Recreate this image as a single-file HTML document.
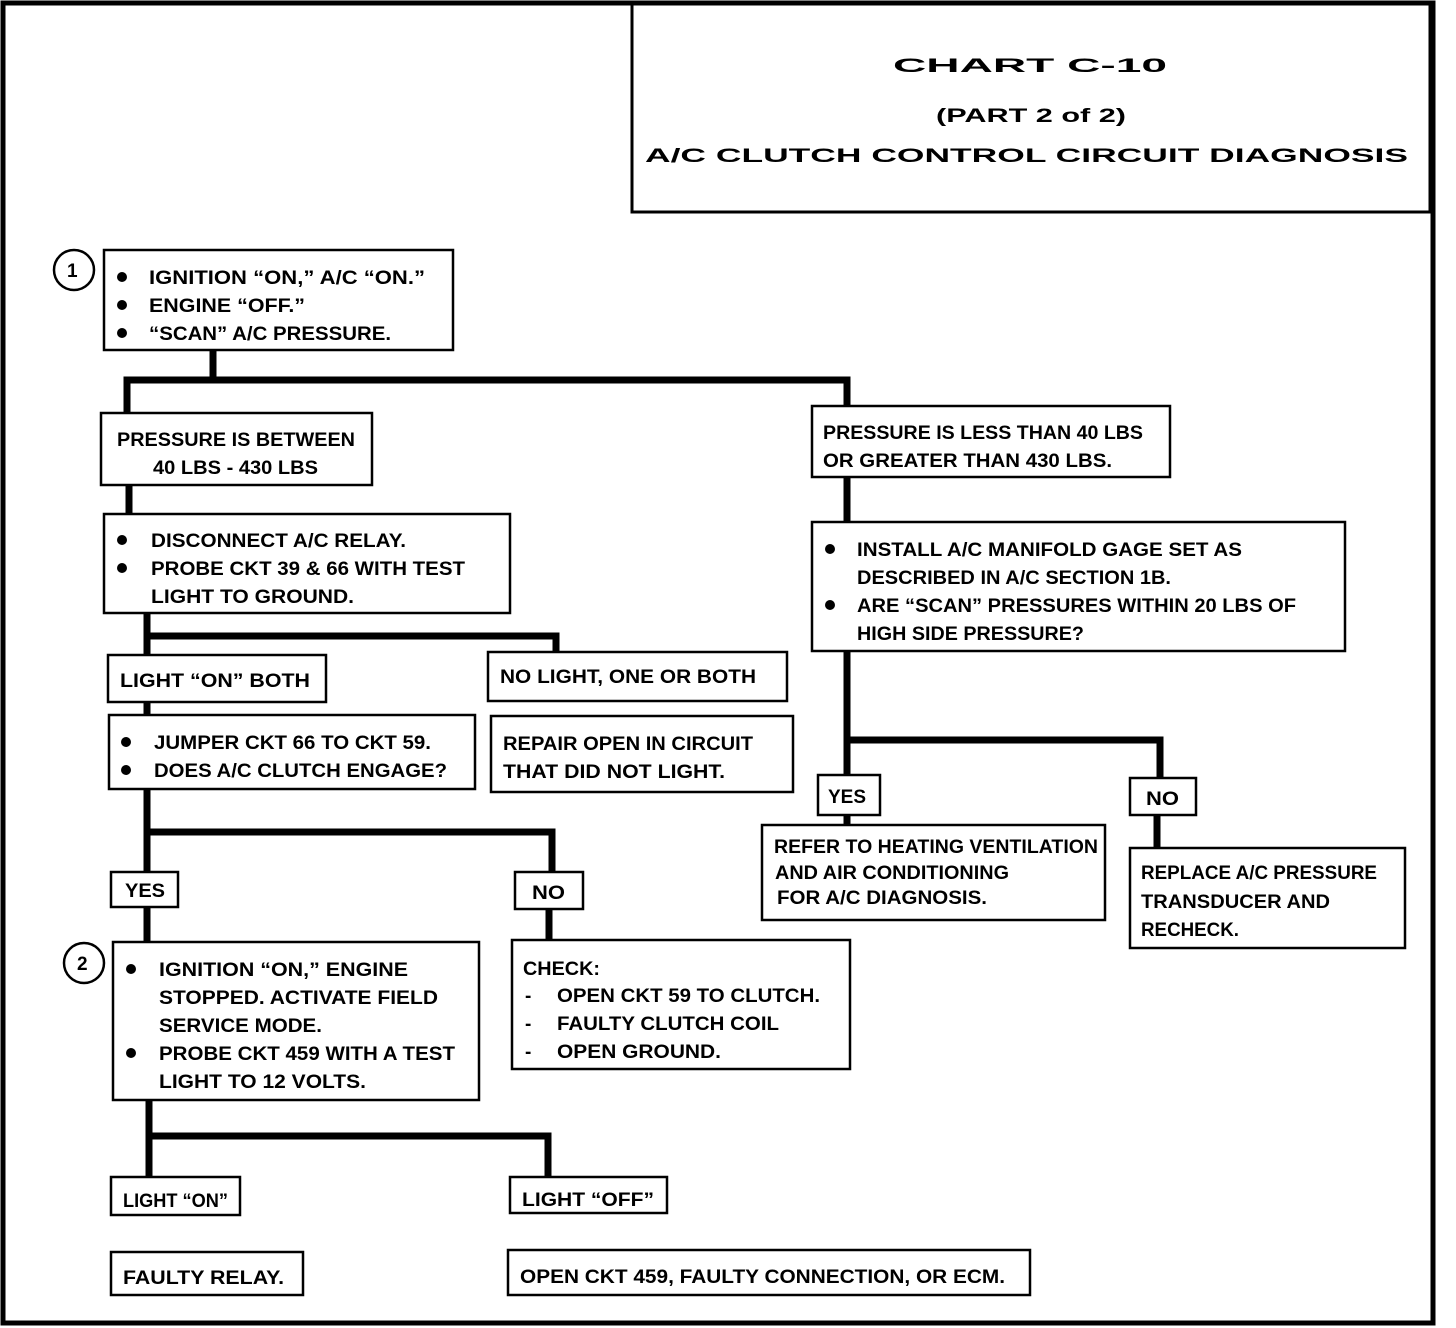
<!DOCTYPE html>
<html><head><meta charset="utf-8"><style>
html,body{margin:0;padding:0;background:#fff}
svg{display:block}
text{font-family:"Liberation Sans",sans-serif;font-weight:bold;font-size:19px;fill:#000}
</style></head><body>
<svg width="1456" height="1328" viewBox="0 0 1456 1328" xmlns="http://www.w3.org/2000/svg">
<g fill="none" stroke="#000">
<!-- outer border -->
<rect x="3" y="3" width="1430" height="1320" stroke-width="5"/>
<!-- title box -->
<rect x="632" y="4" width="798" height="208" stroke-width="3"/>
<!-- boxes -->
<g stroke-width="2.5">
<rect x="104" y="250" width="349" height="100"/>
<rect x="101" y="413" width="271" height="72"/>
<rect x="812" y="406" width="358" height="71"/>
<rect x="104" y="514" width="406" height="99"/>
<rect x="108" y="655" width="218" height="47"/>
<rect x="488" y="652" width="299" height="49"/>
<rect x="109" y="715" width="366" height="74"/>
<rect x="491" y="716" width="302" height="76"/>
<rect x="111" y="872" width="67" height="35"/>
<rect x="515" y="872" width="68" height="37"/>
<rect x="113" y="942" width="366" height="158"/>
<rect x="512" y="940" width="338" height="129"/>
<rect x="111" y="1177" width="129" height="38"/>
<rect x="510" y="1177" width="157" height="36"/>
<rect x="111" y="1252" width="192" height="43"/>
<rect x="508" y="1250" width="522" height="45"/>
<rect x="812" y="522" width="533" height="129"/>
<rect x="818" y="775" width="62" height="40"/>
<rect x="762" y="825" width="343" height="95"/>
<rect x="1130" y="778" width="66" height="37"/>
<rect x="1130" y="848" width="275" height="100"/>
<circle cx="74" cy="270" r="20"/>
<circle cx="84" cy="963" r="20"/>
</g>
<!-- connectors -->
<g stroke-width="7">
<path d="M213 350V380M127 413V380H847V406"/>
<path d="M129 485V514"/>
<path d="M147 613V655M147 636H556V652"/>
<path d="M147 702V715"/>
<path d="M147 789V872M147 832H552V872"/>
<path d="M147 907V942M549 909V940"/>
<path d="M149 1100V1177M149 1136H548V1177"/>
<path d="M847 477V522"/>
<path d="M847 651V775M847 740H1160V778"/>
<path d="M847 815V825M1157 815V848"/>
</g>
</g>
<g fill="#000">
<circle cx="122" cy="277" r="5"/><circle cx="122" cy="305" r="5"/><circle cx="122" cy="333" r="5"/>
<circle cx="122" cy="540" r="5"/><circle cx="122" cy="568" r="5"/>
<circle cx="126" cy="742" r="5"/><circle cx="126" cy="770" r="5"/>
<circle cx="131" cy="969" r="5"/><circle cx="131" cy="1053" r="5"/>
<circle cx="830" cy="549" r="5"/><circle cx="830" cy="605" r="5"/>
</g>
<text x="893" y="72" font-size="46" textLength="274" lengthAdjust="spacingAndGlyphs">CHART C-10</text>
<text x="936" y="122" font-size="28" textLength="190" lengthAdjust="spacingAndGlyphs">(PART  2 of 2)</text>
<text x="645" y="162" font-size="36" textLength="763" lengthAdjust="spacingAndGlyphs">A/C CLUTCH CONTROL CIRCUIT DIAGNOSIS</text>
<text x="67" y="277" font-size="18">1</text>
<text x="77" y="970" font-size="18">2</text>

<text x="149" y="284" textLength="276" lengthAdjust="spacingAndGlyphs">IGNITION “ON,” A/C “ON.”</text>
<text x="149" y="312" textLength="156" lengthAdjust="spacingAndGlyphs">ENGINE “OFF.”</text>
<text x="149" y="340" textLength="242" lengthAdjust="spacingAndGlyphs">“SCAN” A/C PRESSURE.</text>

<text x="117" y="446" textLength="238" lengthAdjust="spacingAndGlyphs">PRESSURE IS BETWEEN</text>
<text x="153" y="474" textLength="165" lengthAdjust="spacingAndGlyphs">40 LBS - 430 LBS</text>

<text x="823" y="439" textLength="320" lengthAdjust="spacingAndGlyphs">PRESSURE IS LESS THAN 40 LBS</text>
<text x="823" y="467" textLength="289" lengthAdjust="spacingAndGlyphs">OR GREATER THAN 430 LBS.</text>

<text x="151" y="547" textLength="255" lengthAdjust="spacingAndGlyphs">DISCONNECT A/C RELAY.</text>
<text x="151" y="575" textLength="314" lengthAdjust="spacingAndGlyphs">PROBE CKT 39 &amp; 66 WITH TEST</text>
<text x="151" y="603" textLength="203" lengthAdjust="spacingAndGlyphs">LIGHT TO GROUND.</text>

<text x="120" y="687" textLength="190" lengthAdjust="spacingAndGlyphs">LIGHT “ON” BOTH</text>
<text x="500" y="683" textLength="256" lengthAdjust="spacingAndGlyphs">NO LIGHT, ONE OR BOTH</text>

<text x="154" y="749" textLength="277" lengthAdjust="spacingAndGlyphs">JUMPER CKT 66 TO CKT 59.</text>
<text x="154" y="777" textLength="293" lengthAdjust="spacingAndGlyphs">DOES A/C CLUTCH ENGAGE?</text>

<text x="503" y="750" textLength="250" lengthAdjust="spacingAndGlyphs">REPAIR OPEN IN CIRCUIT</text>
<text x="503" y="778" textLength="222" lengthAdjust="spacingAndGlyphs">THAT DID NOT LIGHT.</text>

<text x="125" y="897" textLength="40" lengthAdjust="spacingAndGlyphs">YES</text>
<text x="532" y="899" textLength="33" lengthAdjust="spacingAndGlyphs">NO</text>

<text x="159" y="976" textLength="249" lengthAdjust="spacingAndGlyphs">IGNITION “ON,” ENGINE</text>
<text x="159" y="1004" textLength="279" lengthAdjust="spacingAndGlyphs">STOPPED.  ACTIVATE FIELD</text>
<text x="159" y="1032" textLength="163" lengthAdjust="spacingAndGlyphs">SERVICE MODE.</text>
<text x="159" y="1060" textLength="296" lengthAdjust="spacingAndGlyphs">PROBE CKT 459 WITH A TEST</text>
<text x="159" y="1088" textLength="207" lengthAdjust="spacingAndGlyphs">LIGHT TO 12 VOLTS.</text>

<text x="523" y="975" textLength="77" lengthAdjust="spacingAndGlyphs">CHECK:</text>
<text x="525" y="1002">-</text><text x="525" y="1030">-</text><text x="525" y="1058">-</text>
<text x="557" y="1002" textLength="263" lengthAdjust="spacingAndGlyphs">OPEN CKT 59 TO CLUTCH.</text>
<text x="557" y="1030" textLength="222" lengthAdjust="spacingAndGlyphs">FAULTY CLUTCH COIL</text>
<text x="557" y="1058" textLength="164" lengthAdjust="spacingAndGlyphs">OPEN GROUND.</text>

<text x="123" y="1207" textLength="105" lengthAdjust="spacingAndGlyphs">LIGHT “ON”</text>
<text x="522" y="1206" textLength="132" lengthAdjust="spacingAndGlyphs">LIGHT “OFF”</text>
<text x="123" y="1284" textLength="161" lengthAdjust="spacingAndGlyphs">FAULTY RELAY.</text>
<text x="520" y="1283" textLength="485" lengthAdjust="spacingAndGlyphs">OPEN CKT 459, FAULTY CONNECTION, OR ECM.</text>

<text x="857" y="556" textLength="385" lengthAdjust="spacingAndGlyphs">INSTALL A/C MANIFOLD GAGE SET AS</text>
<text x="857" y="584" textLength="314" lengthAdjust="spacingAndGlyphs">DESCRIBED IN A/C SECTION 1B.</text>
<text x="857" y="612" textLength="439" lengthAdjust="spacingAndGlyphs">ARE “SCAN” PRESSURES WITHIN 20 LBS OF</text>
<text x="857" y="640" textLength="227" lengthAdjust="spacingAndGlyphs">HIGH SIDE PRESSURE?</text>

<text x="828" y="803" textLength="38" lengthAdjust="spacingAndGlyphs">YES</text>
<text x="1146" y="805" textLength="33" lengthAdjust="spacingAndGlyphs">NO</text>

<text x="774" y="853" textLength="324" lengthAdjust="spacingAndGlyphs">REFER TO  HEATING VENTILATION</text>
<text x="775" y="879" textLength="234" lengthAdjust="spacingAndGlyphs">AND AIR   CONDITIONING</text>
<text x="777" y="904" textLength="210" lengthAdjust="spacingAndGlyphs">FOR A/C DIAGNOSIS.</text>

<text x="1141" y="879" textLength="236" lengthAdjust="spacingAndGlyphs">REPLACE A/C PRESSURE</text>
<text x="1141" y="908" textLength="189" lengthAdjust="spacingAndGlyphs">TRANSDUCER AND</text>
<text x="1141" y="936" textLength="98" lengthAdjust="spacingAndGlyphs">RECHECK.</text>
</svg>
</body></html>
